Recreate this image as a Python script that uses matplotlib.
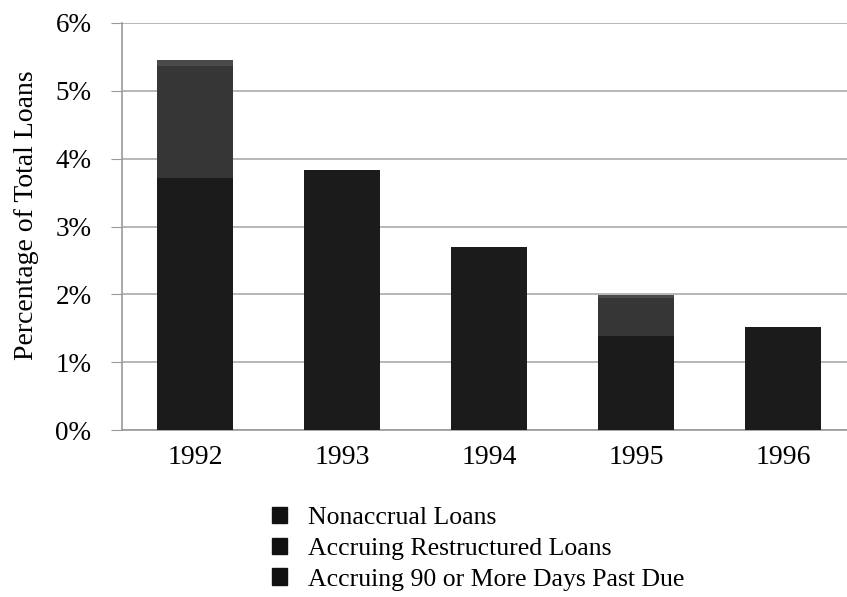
import matplotlib
matplotlib.use("Agg")
import matplotlib.pyplot as plt
import numpy as np

years = ["1992", "1993", "1994", "1995", "1996"]
nonaccrual = [3.72, 3.83, 2.70, 1.39, 1.52]
restructured = [1.65, 0.0, 0.0, 0.55, 0.0]
past_due = [0.08, 0.0, 0.0, 0.05, 0.0]
series_names = ["Nonaccrual Loans", "Accruing Restructured Loans",
                "Accruing 90 or More Days Past Due"]
yticks = [0, 1, 2, 3, 4, 5, 6]
ytick_labels = ["0%", "1%", "2%", "3%", "4%", "5%", "6%"]

colors = ["#1b1b1b", "#363636", "#4a4a4a"]

plt.rcParams['font.family'] = ['Liberation Serif', 'DejaVu Serif']

fig = plt.figure(figsize=(8.47, 5.97), dpi=100)
ax = fig.add_axes([122/847, 1-430/597, 1-122/847, (430-23)/597])

x = np.arange(len(years))
w = 0.52
b1 = ax.bar(x, nonaccrual, w, color=colors[0], label=series_names[0], zorder=3)
bottom2 = np.array(nonaccrual)
b2 = ax.bar(x, restructured, w, bottom=bottom2, color=colors[1], label=series_names[1], zorder=3)
bottom3 = bottom2 + np.array(restructured)
b3 = ax.bar(x, past_due, w, bottom=bottom3, color=colors[2], label=series_names[2], zorder=3)

ax.set_xlim(-0.497, 4.435)
ax.set_ylim(0, 6)
ax.set_yticks(yticks)
ax.set_yticklabels(ytick_labels, fontsize=19.5)
ax.set_xticks(x)
ax.set_xticklabels(years, fontsize=20)
ax.tick_params(axis='x', length=0, pad=11)
ax.tick_params(axis='y', length=8, color='#999999', pad=14)
ax.yaxis.grid(True, color='#aaaaaa', linewidth=1.2, zorder=0)
for s in ['right', 'top']:
    ax.spines[s].set_visible(False)
for s in ['left', 'bottom']:
    ax.spines[s].set_color('#999999')
    ax.spines[s].set_linewidth(1.2)
ax.set_ylabel("Percentage of Total Loans", fontsize=20)
ax.yaxis.set_label_coords(-(122-39)/725, 0.527)

leg = fig.legend(handles=[b1, b2, b3], labels=series_names,
                 loc='upper left', bbox_to_anchor=(272/847, 1-507/597),
                 frameon=False, fontsize=18.5, handlelength=0.6, handleheight=0.6,
                 handletextpad=0.82, labelspacing=0.33, borderpad=0, borderaxespad=0)
for h in leg.legend_handles:
    h.set_color('#111111')

fig.savefig("out.png", dpi=100)
